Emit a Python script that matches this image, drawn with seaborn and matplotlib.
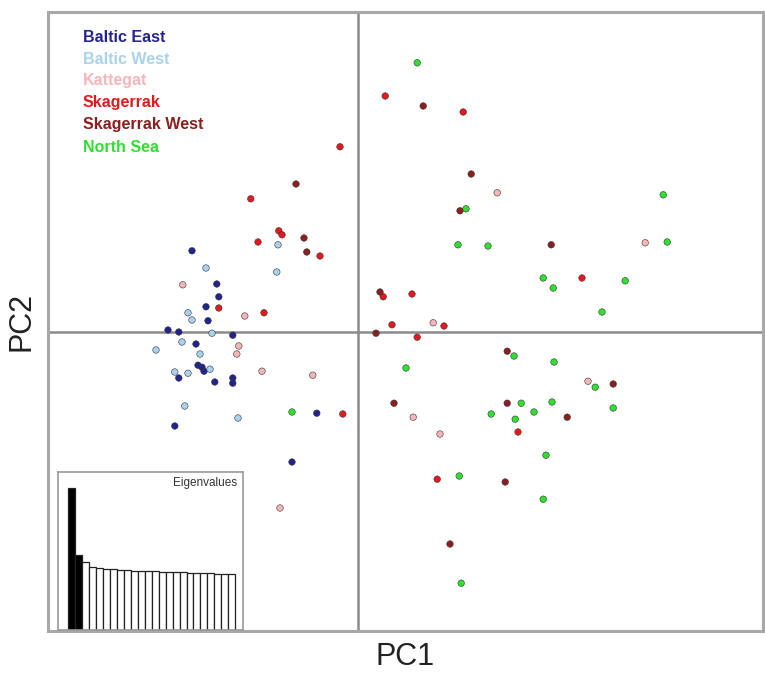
import matplotlib
matplotlib.use("Agg")
import matplotlib.pyplot as plt
import seaborn as sns
import pandas as pd

sns.set_style("white")
plt.rcParams["font.family"] = ["Liberation Sans", "DejaVu Sans"]

# ---- data (PC scores) ----
populations = ["Baltic East", "Baltic West", "Kattegat", "Skagerrak", "Skagerrak West", "North Sea"]
pop_colors = ["#23238f", "#a9d2ee", "#f6b5b8", "#e3191f", "#8b1f1f", "#2fe02f"]

baltic_east_pc1 = [-4.15, -3.53, -3.48, -3.80, -3.75, -4.75, -4.48, -3.13, -4.05, -4.00, -3.90, -3.85, -4.48, -3.58, -3.13, -3.13, -4.58, -1.03, -1.65]
baltic_east_pc2 = [2.03, 1.20, 0.88, 0.63, 0.28, 0.05, 0.00, -0.08, -0.30, -0.83, -0.88, -0.98, -1.15, -1.25, -1.15, -1.28, -2.35, -2.03, -3.25]

baltic_west_pc1 = [-3.80, -4.25, -4.15, -3.65, -5.05, -4.40, -4.58, -4.25, -3.70, -4.33, -3.00, -2.00, -3.95, -2.03]
baltic_west_pc2 = [1.60, 0.48, 0.30, -0.03, -0.45, -0.25, -1.00, -1.03, -0.93, -1.85, -2.15, 2.18, -0.55, 1.50]

kattegat_pc1 = [-4.38, -2.83, -2.98, -3.03, -2.40, -1.13, -1.95, 1.88, 1.38, 2.05, 3.48, 7.18, 5.75]
kattegat_pc2 = [1.18, 0.40, -0.35, -0.55, -0.98, -1.08, -4.40, 0.23, -2.13, -2.55, 3.48, 2.23, -1.23]

skagerrak_pc1 = [-2.50, -3.48, -2.35, -0.45, -2.68, -1.98, -1.90, -0.95, -0.38, 0.68, 2.63, 1.35, 0.63, 0.85, 2.15, 4.00, 1.98, 5.60, 1.48]
skagerrak_pc2 = [2.25, 0.60, 0.48, 4.63, 3.33, 2.53, 2.43, 1.90, -2.05, 5.90, 5.50, 0.95, 0.88, 0.18, 0.15, -2.50, -3.68, 1.35, -0.13]

skagerrak_west_pc1 = [-1.55, -1.35, -1.28, 1.63, 2.83, 2.55, 4.83, 0.55, 0.45, 3.73, 0.90, 3.73, 5.23, 6.38, 3.68, 2.30]
skagerrak_west_pc2 = [3.70, 2.35, 2.00, 5.65, 3.95, 3.03, 2.18, 1.00, -0.03, -0.48, -1.78, -1.78, -2.13, -1.30, -3.75, -5.30]

north_sea_pc1 = [1.48, 2.70, 2.50, 3.25, 4.63, 4.88, 6.10, 3.90, 4.90, 1.20, 5.93, 4.08, 4.85, 3.33, 3.93, 4.40, 6.38, 4.70, 2.53, 4.63, 2.58, 7.63, 7.73, 6.68, -1.65]
north_sea_pc2 = [6.73, 3.08, 2.18, 2.15, 1.35, 1.10, 0.50, -0.60, -0.75, -0.90, -1.38, -1.78, -1.75, -2.05, -2.18, -2.00, -1.90, -3.08, -3.60, -4.18, -6.28, 3.43, 2.25, 1.28, -2.00]

eigenvalues = [141, 75, 68, 63, 62, 61, 60.5, 60, 59.5, 59, 59, 58.5, 58.5, 58, 58, 57.5, 57.5, 57, 57, 56.5, 56.5, 56, 56, 56]
n_retained = 2

# ---- build table ----
groups = [
    (baltic_east_pc1, baltic_east_pc2),
    (baltic_west_pc1, baltic_west_pc2),
    (kattegat_pc1, kattegat_pc2),
    (skagerrak_pc1, skagerrak_pc2),
    (skagerrak_west_pc1, skagerrak_west_pc2),
    (north_sea_pc1, north_sea_pc2),
]
rows = []
for name, (xs, ys) in zip(populations, groups):
    for x, y in zip(xs, ys):
        rows.append({"PC1": x, "PC2": y, "pop": name})
df = pd.DataFrame(rows)
palette = dict(zip(populations, pop_colors))

W, H = 765, 677
fig = plt.figure(figsize=(W / 100, H / 100), dpi=100)
fig.patch.set_facecolor("white")

# main axes: pixel box 48..763 x 12..631
ax = fig.add_axes([48 / W, 1 - 631 / H, 715 / W, 619 / H])
ax.set_xlim(-7.75, 10.125)
ax.set_ylim(-7.475, 8.0)
ax.axhline(0, color="#8a8a8a", lw=1.8, zorder=1)
ax.axvline(0, color="#8a8a8a", lw=1.8, zorder=1)
sns.scatterplot(data=df, x="PC1", y="PC2", hue="pop", palette=palette,
                hue_order=populations, s=22, linewidth=0.4, edgecolor="#333333",
                legend=False, ax=ax, zorder=3)
ax.set_xticks([])
ax.set_yticks([])
ax.set_xlabel("PC1", fontsize=22, color="#222222", labelpad=8)
ax.set_ylabel("PC2", fontsize=22, color="#222222", labelpad=8)
for sp in ax.spines.values():
    sp.set_color("#a8a8a8")
    sp.set_linewidth(2.2)

# text legend
for i, (name, col) in enumerate(zip(populations, pop_colors)):
    fig.text(83 / W, 1 - (37 + i * 22) / H, name, color=col, fontsize=11.5,
             fontweight="bold", va="center", ha="left")

# eigenvalue inset
axi = fig.add_axes([58 / W, 1 - 630 / H, 185 / W, 158 / H])
eig_df = pd.DataFrame({"axis": [str(i) for i in range(len(eigenvalues))], "eig": eigenvalues})
bar_cols = {str(i): ("black" if i < n_retained else "white") for i in range(len(eigenvalues))}
sns.barplot(data=eig_df, x="axis", y="eig", hue="axis", palette=bar_cols,
            width=1.0, edgecolor="#222222", linewidth=0.9, legend=False, ax=axi)
axi.set_xlim(-1.93, 24.6)
axi.set_ylim(0, 157)
axi.set_xticks([])
axi.set_yticks([])
axi.set_xlabel("")
axi.set_ylabel("")
for sp in axi.spines.values():
    sp.set_color("#9a9a9a")
    sp.set_linewidth(1.2)
axi.text(0.97, 0.97, "Eigenvalues", transform=axi.transAxes, ha="right", va="top",
         fontsize=8.5, color="#333333")

fig.savefig("out.png", dpi=100, facecolor="white")
